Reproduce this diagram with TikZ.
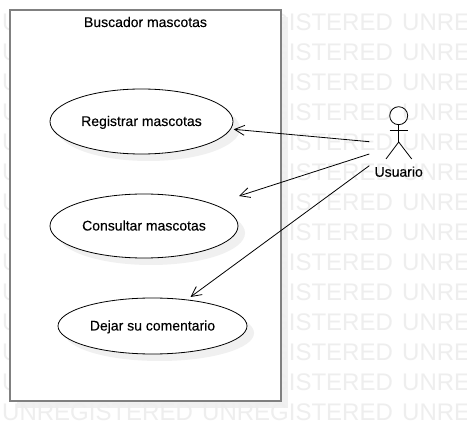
\documentclass[tikz,border=0pt]{standalone}
\usepackage{fontspec}
\setmainfont{Liberation Sans}
\newfontfamily\heavyfont[FakeBold=0.2]{Liberation Sans}
\usetikzlibrary{arrows.meta,shapes.geometric}
\definecolor{wm}{HTML}{EEEEEE}
\definecolor{shadowc}{HTML}{F0F0F0}
\definecolor{framec}{HTML}{808080}
\tikzset{
  x=1pt,y=-1pt,
  usecase/.style={draw=black,fill=white,ellipse,line width=0.8pt,inner sep=0pt,text height=12pt,text depth=3pt,font=\heavyfont\fontsize{14}{16}\selectfont},
  caseshadow/.style={fill=shadowc,draw=none},
  watermark/.style={text=wm,font=\fontsize{24}{26}\selectfont,anchor=base west,inner sep=0pt},
  lbl/.style={text=black,font=\heavyfont\fontsize{14}{16}\selectfont,inner sep=0pt,text height=12pt,text depth=3pt},
  assoc/.style={draw=black,line width=0.8pt,-{Straight Barb[length=10pt,width=10pt,line width=0.8pt]}},
  actorline/.style={draw=black,line width=0.8pt}
}
\begin{document}
\begin{tikzpicture}
\useasboundingbox (0,0) rectangle (467,441);
\clip (0,0) rectangle (467,441);
\fill[white] (0,0) rectangle (467,441);
% frame shadow
\fill[shadowc] (17,17) rectangle (288,408);
% watermark
\foreach \row in {0,...,13}{
  \foreach \col in {0,1,2}{
    \node[watermark] (wm\row-\col) at ({2+200*\col},{31+30*\row}) {UNREGISTERED};
  }
}
% system frame
\node[draw=framec,fill=white,line width=2pt,minimum width=271pt,minimum height=391pt,inner sep=0pt] (frame) at (145.5,205.5) {};
\node[lbl] (title) at (145.5,22.5) {Buscador mascotas};
% use case shadows
\fill[caseshadow] (148.5,128.5) ellipse [x radius=91.5,y radius=32.5];
\fill[caseshadow] (151,233) ellipse [x radius=94,y radius=32];
\fill[caseshadow] (159.5,333) ellipse [x radius=94.5,y radius=28];
% use cases
\node[usecase,minimum width=183pt,minimum height=65pt] (e1) at (141.5,121.5) {Registrar mascotas};
\node[usecase,minimum width=188pt,minimum height=64pt] (e2) at (144,226) {Consultar mascotas};
\node[usecase,minimum width=189pt,minimum height=56pt] (e3) at (152.5,326) {Dejar su comentario};
% actor
\node[draw=black,circle,line width=0.8pt,minimum size=18pt,inner sep=0pt] (head) at (398.7,115.7) {};
\coordinate (hip) at (398.7,142);
\coordinate (armL) at (389.7,130.7);
\coordinate (armR) at (408,130.7);
\coordinate (legL) at (386,159);
\coordinate (legR) at (411.7,159);
\draw[actorline] (head.south) -- (hip);
\draw[actorline] (armL) -- (armR);
\draw[actorline] (legL) -- (hip) -- (legR);
\node[lbl] (actor) at (398.7,172.2) {Usuario};
% associations
\coordinate (u1) at (369.3,141.7);
\coordinate (u2) at (369.3,154);
\coordinate (u3) at (369.3,165.7);
\coordinate (t1) at (233.7,129.3);
\coordinate (t2) at (239,196);
\coordinate (t3) at (190.5,297);
\draw[assoc] (u1) -- (t1);
\draw[assoc] (u2) -- (t2);
\draw[assoc] (u3) -- (t3);
\end{tikzpicture}
\end{document}
